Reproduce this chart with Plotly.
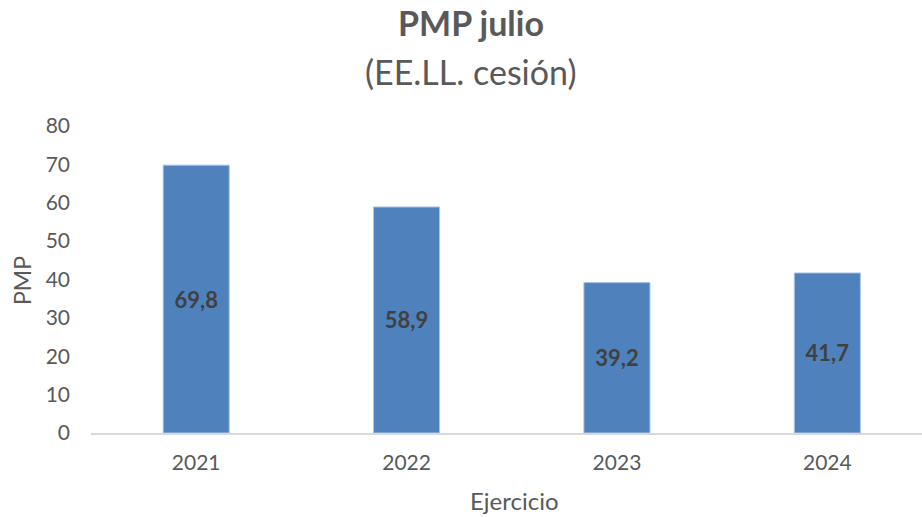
import plotly.graph_objects as go

years = ["2021", "2022", "2023", "2024"]
pmp = [69.8, 58.9, 39.2, 41.7]
labels = ["69,8", "58,9", "39,2", "41,7"]
y_ticks = [0, 10, 20, 30, 40, 50, 60, 70, 80]

FONT = "Lato, Open Sans, sans-serif"
GREY = "#595959"

fig = go.Figure()
fig.add_trace(go.Bar(
    x=years, y=pmp, text=labels, textposition="inside", insidetextanchor="middle",
    textfont=dict(family=FONT, size=22, color="#404040", weight="bold"),
    marker=dict(color="#4F81BD", line=dict(color="#A9C4E4", width=1)),
    width=0.314, cliponaxis=False,
))

fig.update_layout(
    width=922, height=517,
    margin=dict(l=91, r=0, t=126, b=84),
    paper_bgcolor="white", plot_bgcolor="white",
    showlegend=False,
    font=dict(family=FONT, color=GREY),
    xaxis=dict(
        type="category", range=[-0.5, 3.45], showgrid=False, showline=True,
        linecolor="#D9D9D9", linewidth=1.5, ticks="", tickfont=dict(size=21, color=GREY),
        ticklabelstandoff=10,
    ),
    yaxis=dict(
        range=[0, 80], tickvals=y_ticks, showgrid=False, showline=False, zeroline=False,
        ticks="", tickfont=dict(size=21, color=GREY), ticklabelstandoff=20,
    ),
    annotations=[
        dict(text="<b>PMP julio</b>", x=471, y=22, showarrow=False,
             font=dict(size=34, color=GREY, family=FONT)),
        dict(text="(EE.LL. cesión)", x=471, y=72, showarrow=False,
             font=dict(size=34, color=GREY, family=FONT)),
        dict(text="Ejercicio", x=514, y=500, showarrow=False,
             font=dict(size=24, color=GREY, family=FONT)),
        dict(text="PMP", x=22, y=281, showarrow=False, textangle=-90,
             font=dict(size=23, color=GREY, family=FONT)),
    ],
)

# convert pixel positions of annotations to paper coords
pw = 922 - 91 - 0
ph = 517 - 126 - 84
for a in fig.layout.annotations:
    px, py = a.x, a.y
    a.xref = "paper"; a.yref = "paper"
    a.x = (px - 91) / pw
    a.y = (517 - 84 - py) / ph
    a.xanchor = "center"; a.yanchor = "middle"

fig.write_html("out.html", config={"displayModeBar": False},
               post_script="document.body.style.margin='0';document.body.style.overflow='hidden';")
